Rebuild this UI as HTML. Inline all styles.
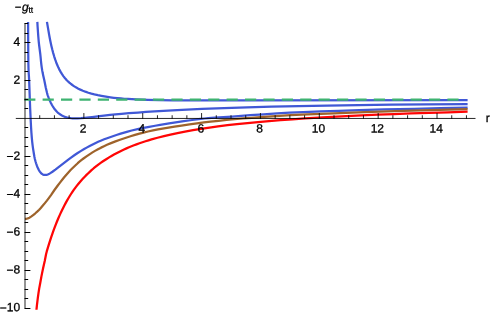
<!DOCTYPE html>
<html><head><meta charset="utf-8"><title>plot</title>
<style>
html,body{margin:0;padding:0;background:#fff;}
svg{display:block;font-family:"Liberation Sans",sans-serif;will-change:transform;}
</style></head><body>
<svg width="491" height="315" viewBox="0 0 491 315">
<g fill="none" stroke-width="2.25" stroke-linejoin="round" stroke-linecap="butt">
<path d="M46.95 21.90 L49.19 35.01 L49.88 38.76 L50.54 42.04 L51.34 45.67 L52.27 49.55 L53.15 52.87 L54.15 56.31 L55.15 59.42 L56.15 62.23 L57.27 65.07 L58.40 67.61 L59.53 69.89 L60.78 72.16 L62.03 74.18 L63.54 76.34 L65.04 78.24 L65.80 79.12 L66.80 80.21 L68.30 81.70 L69.31 82.61 L70.31 83.46 L72.32 85.00 L74.32 86.36 L76.33 87.57 L78.34 88.66 L80.34 89.63 L82.85 90.72 L85.36 91.69 L88.36 92.71 L91.37 93.60 L94.37 94.39 L97.87 95.19 L101.38 95.89 L104.38 96.42 L107.38 96.89 L110.38 97.32 L113.88 97.76 L117.38 98.14 L120.88 98.47 L124.38 98.75 L127.88 98.99 L131.88 99.21 L136.38 99.42 L147.88 99.80 L159.38 100.07 L172.88 100.27 L185.88 100.38 L200.88 100.46 L240.38 100.49 L467.60 100.00" stroke="#4058d6"/>
<path d="M37.34 21.90 L37.60 26.51 L37.93 31.53 L38.33 36.83 L38.75 41.81 L39.17 45.50 L40.31 54.27 L40.58 56.79 L41.12 62.56 L41.40 65.00 L41.72 67.34 L42.15 70.14 L42.65 72.84 L43.15 75.19 L44.25 79.98 L45.80 87.67 L47.06 92.94 L47.43 94.34 L47.74 95.35 L48.68 97.91 L49.64 100.26 L50.62 102.40 L51.74 104.58 L52.74 106.31 L53.99 108.22 L54.99 109.57 L56.24 111.04 L57.24 112.07 L57.75 112.54 L58.77 113.41 L60.34 114.53 L61.92 115.46 L63.49 116.22 L65.03 116.83 L66.54 117.30 L68.54 117.78 L69.54 117.96 L71.04 118.16 L72.54 118.28 L74.04 118.35 L75.54 118.37 L77.54 118.34 L81.04 118.18 L84.54 117.90 L89.04 117.44 L92.04 117.10 L99.54 116.15 L104.04 115.63 L110.04 114.97 L115.54 114.41 L121.54 113.86 L129.04 113.24 L138.04 112.53 L146.04 111.94 L154.54 111.37 L163.54 110.81 L172.54 110.30 L182.04 109.81 L192.04 109.34 L202.04 108.90 L224.04 108.07 L247.04 107.35 L271.54 106.71 L298.54 106.12 L327.04 105.60 L358.54 105.13 L392.04 104.73 L428.04 104.38 L467.60 104.08" stroke="#4058d6"/>
<path d="M28.09 21.90 L28.26 54.17 L28.36 63.36 L28.49 68.82 L28.61 71.57 L28.97 77.09 L29.16 80.99 L30.14 107.74 L30.69 120.13 L31.06 127.05 L31.43 132.81 L31.78 137.45 L32.20 141.78 L32.58 145.12 L33.03 148.37 L33.96 154.26 L34.45 156.99 L34.87 158.97 L35.46 161.22 L36.06 163.24 L36.79 165.40 L37.52 167.27 L38.38 169.13 L38.87 170.05 L39.37 170.87 L39.86 171.61 L40.35 172.27 L40.85 172.85 L41.34 173.35 L41.84 173.78 L42.33 174.13 L42.83 174.42 L43.33 174.65 L43.83 174.81 L44.33 174.92 L44.82 174.98 L45.32 174.99 L45.82 174.96 L46.83 174.77 L47.33 174.62 L48.34 174.23 L49.35 173.73 L50.36 173.14 L52.44 171.76 L55.37 169.61 L67.67 160.15 L70.67 157.90 L74.67 155.04 L77.67 153.03 L80.67 151.14 L84.17 149.05 L86.67 147.61 L89.67 145.96 L92.67 144.41 L95.67 142.93 L98.17 141.77 L100.67 140.71 L104.17 139.32 L107.17 138.19 L110.67 136.95 L117.17 134.73 L120.67 133.61 L124.17 132.56 L127.67 131.58 L131.67 130.53 L137.67 129.09 L140.67 128.41 L142.17 128.11 L149.17 126.92 L155.17 125.77 L160.17 124.87 L169.17 123.36 L182.17 121.40 L192.17 120.00 L196.67 119.42 L200.67 118.94 L204.67 118.50 L208.17 118.17 L214.67 117.66 L232.17 116.55 L250.17 115.23 L263.67 114.29 L277.17 113.43 L289.67 112.73 L303.17 112.08 L320.67 111.38 L338.67 110.76 L359.17 110.14 L384.17 109.48 L414.17 108.76 L440.17 108.21 L467.60 107.70" stroke="#4058d6"/>
<path d="M25.00 218.98 L26.10 218.86 L26.65 218.75 L27.75 218.41 L28.30 218.19 L29.41 217.66 L29.97 217.35 L31.09 216.64 L32.79 215.41 L35.08 213.53 L37.46 211.43 L39.19 209.75 L40.78 208.00 L42.85 205.59 L44.89 203.11 L46.90 200.58 L48.61 198.32 L51.00 195.05 L54.63 189.75 L57.77 185.48 L59.98 182.58 L62.20 179.77 L64.41 177.04 L66.38 174.71 L68.61 172.20 L70.60 170.07 L72.13 168.54 L75.55 165.24 L77.74 163.21 L79.44 161.72 L81.63 159.93 L83.51 158.51 L86.50 156.37 L89.50 154.32 L92.50 152.38 L95.00 150.87 L98.00 149.20 L101.00 147.63 L104.00 146.16 L107.00 144.80 L111.00 143.13 L115.50 141.39 L120.00 139.77 L126.00 137.70 L130.50 136.24 L135.00 134.87 L139.50 133.59 L143.50 132.55 L148.00 131.48 L153.00 130.42 L158.00 129.44 L164.00 128.37 L174.50 126.63 L181.50 125.52 L189.50 124.34 L197.00 123.30 L204.00 122.41 L210.50 121.65 L218.50 120.77 L226.50 119.96 L234.50 119.20 L243.00 118.45 L251.50 117.76 L260.50 117.08 L275.50 116.08 L290.50 115.23 L307.50 114.41 L327.50 113.60 L364.50 112.24 L395.00 111.22 L430.00 110.18 L467.60 109.14" stroke="#9e632b"/>
<path d="M36.48 309.80 L36.52 309.16 L37.00 304.71 L37.76 298.34 L38.48 293.08 L39.18 288.65 L40.33 282.58 L41.34 276.86 L42.08 273.12 L43.10 268.32 L44.74 260.98 L46.11 254.06 L46.76 251.44 L48.88 244.36 L51.13 237.39 L53.38 230.92 L54.50 227.87 L55.75 224.60 L56.88 221.78 L58.13 218.77 L59.38 215.88 L60.63 213.11 L61.88 210.45 L63.25 207.66 L64.50 205.22 L65.75 202.88 L67.00 200.64 L68.25 198.48 L69.75 196.00 L71.00 194.02 L72.25 192.13 L73.75 189.95 L75.25 187.88 L76.75 185.91 L78.25 184.02 L79.75 182.21 L81.25 180.47 L83.00 178.54 L84.75 176.68 L86.50 174.91 L88.00 173.44 L90.00 171.56 L91.50 170.21 L93.50 168.48 L95.00 167.24 L97.00 165.65 L99.00 164.13 L101.00 162.68 L103.00 161.29 L105.00 159.96 L107.00 158.68 L109.50 157.16 L111.50 155.99 L114.00 154.58 L116.50 153.23 L119.00 151.94 L121.50 150.71 L124.00 149.53 L126.50 148.40 L129.00 147.33 L134.00 145.32 L136.50 144.38 L139.50 143.29 L142.50 142.26 L145.50 141.27 L148.50 140.33 L151.50 139.43 L157.50 137.75 L164.00 136.09 L170.50 134.57 L177.50 133.07 L185.00 131.60 L193.00 130.17 L201.00 128.86 L209.50 127.59 L218.00 126.42 L227.50 125.23 L237.00 124.14 L247.50 123.03 L258.00 122.03 L269.00 121.06 L280.50 120.14 L292.50 119.26 L305.00 118.42 L318.00 117.62 L332.00 116.83 L346.50 116.08 L361.50 115.38 L377.50 114.69 L394.00 114.04 L411.00 113.43 L429.00 112.84 L448.00 112.27 L467.60 111.73" stroke="#ff0505"/>
</g>
<path d="M24.40 99.6 H35.40 M42.60 99.6 H53.80 M61.00 99.6 H72.20 M79.40 99.6 H90.60 M97.80 99.6 H109.00 M116.20 99.6 H127.40 M134.60 99.6 H145.80 M153.00 99.6 H164.20 M171.40 99.6 H182.60 M189.80 99.6 H201.00 M208.20 99.6 H219.40 M226.60 99.6 H237.80 M245.00 99.6 H256.20 M263.40 99.6 H274.60 M281.80 99.6 H293.00 M300.20 99.6 H311.40 M318.60 99.6 H329.80 M337.00 99.6 H348.20 M355.40 99.6 H366.60 M373.80 99.6 H385.00 M392.20 99.6 H403.40 M410.60 99.6 H421.80 M429.00 99.6 H440.20 M447.40 99.6 H458.60" stroke="#3eb371" stroke-width="2.25" fill="none"/>
<path d="M15.8 118.45 H475.5 M25.00 23.18 V308.57" stroke="#000" stroke-width="0.85" fill="none"/>
<path d="M39.72 118.88 v-3.62 M54.43 118.88 v-3.62 M69.14 118.88 v-3.62 M83.86 118.88 v-5.83 M98.58 118.88 v-3.62 M113.29 118.88 v-3.62 M128.00 118.88 v-3.62 M142.72 118.88 v-5.83 M157.44 118.88 v-3.62 M172.15 118.88 v-3.62 M186.87 118.88 v-3.62 M201.58 118.88 v-5.83 M216.29 118.88 v-3.62 M231.01 118.88 v-3.62 M245.72 118.88 v-3.62 M260.44 118.88 v-5.83 M275.15 118.88 v-3.62 M289.87 118.88 v-3.62 M304.58 118.88 v-3.62 M319.30 118.88 v-5.83 M334.01 118.88 v-3.62 M348.73 118.88 v-3.62 M363.44 118.88 v-3.62 M378.16 118.88 v-5.83 M392.88 118.88 v-3.62 M407.59 118.88 v-3.62 M422.31 118.88 v-3.62 M437.02 118.88 v-5.83 M451.74 118.88 v-3.62 M466.45 118.88 v-3.62" stroke="#000" stroke-width="0.85" fill="none"/><path d="M24.57 308.50 h5.83 M24.57 298.50 h3.62 M24.57 289.50 h3.62 M24.57 279.50 h3.62 M24.57 270.50 h5.83 M24.57 260.50 h3.62 M24.57 251.50 h3.62 M24.57 241.50 h3.62 M24.57 232.50 h5.83 M24.57 222.50 h3.62 M24.57 213.50 h3.62 M24.57 203.50 h3.62 M24.57 194.50 h5.83 M24.57 184.50 h3.62 M24.57 175.50 h3.62 M24.57 165.50 h3.62 M24.57 156.50 h5.83 M24.57 146.50 h3.62 M24.57 137.50 h3.62 M24.57 127.50 h3.62 M24.57 108.50 h3.62 M24.57 99.50 h3.62 M24.57 89.50 h3.62 M24.57 80.50 h5.83 M24.57 71.50 h3.62 M24.57 61.50 h3.62 M24.57 52.50 h3.62 M24.57 42.50 h5.83 M24.57 33.50 h3.62 M24.57 23.50 h3.62" stroke="#000" stroke-width="1" fill="none"/>
<g font-size="12.0" fill="#000" stroke="#000" stroke-width="0.3" transform="rotate(0.03 245 157)">
<text x="83.06" y="132.5" text-anchor="middle">2</text>
<text x="141.92" y="132.5" text-anchor="middle">4</text>
<text x="200.78" y="132.5" text-anchor="middle">6</text>
<text x="259.64" y="132.5" text-anchor="middle">8</text>
<text x="318.50" y="132.5" text-anchor="middle">10</text>
<text x="377.36" y="132.5" text-anchor="middle">12</text>
<text x="436.22" y="132.5" text-anchor="middle">14</text>
<text x="20.2" y="45.97" text-anchor="end">4</text>
<text x="20.2" y="83.91" text-anchor="end">2</text>
<text x="20.2" y="159.79" text-anchor="end"><tspan dy="0.8">−</tspan><tspan dy="-0.8">2</tspan></text>
<text x="20.2" y="197.73" text-anchor="end"><tspan dy="0.8">−</tspan><tspan dy="-0.8">4</tspan></text>
<text x="20.2" y="235.67" text-anchor="end"><tspan dy="0.8">−</tspan><tspan dy="-0.8">6</tspan></text>
<text x="20.2" y="273.61" text-anchor="end"><tspan dy="0.8">−</tspan><tspan dy="-0.8">8</tspan></text>
<text x="20.2" y="311.35" text-anchor="end"><tspan dy="0.8">−</tspan><tspan dy="-0.8">10</tspan></text>
<text x="485.7" y="121.8">r</text>
<text x="14.6" y="11.2" font-size="11.4">−<tspan font-style="italic" font-size="12" dx="0.6" dy="-0.2">g</tspan><tspan font-size="8.4" dy="1.9" dx="-0.2">tt</tspan></text>
</g>
</svg>
</body></html>
